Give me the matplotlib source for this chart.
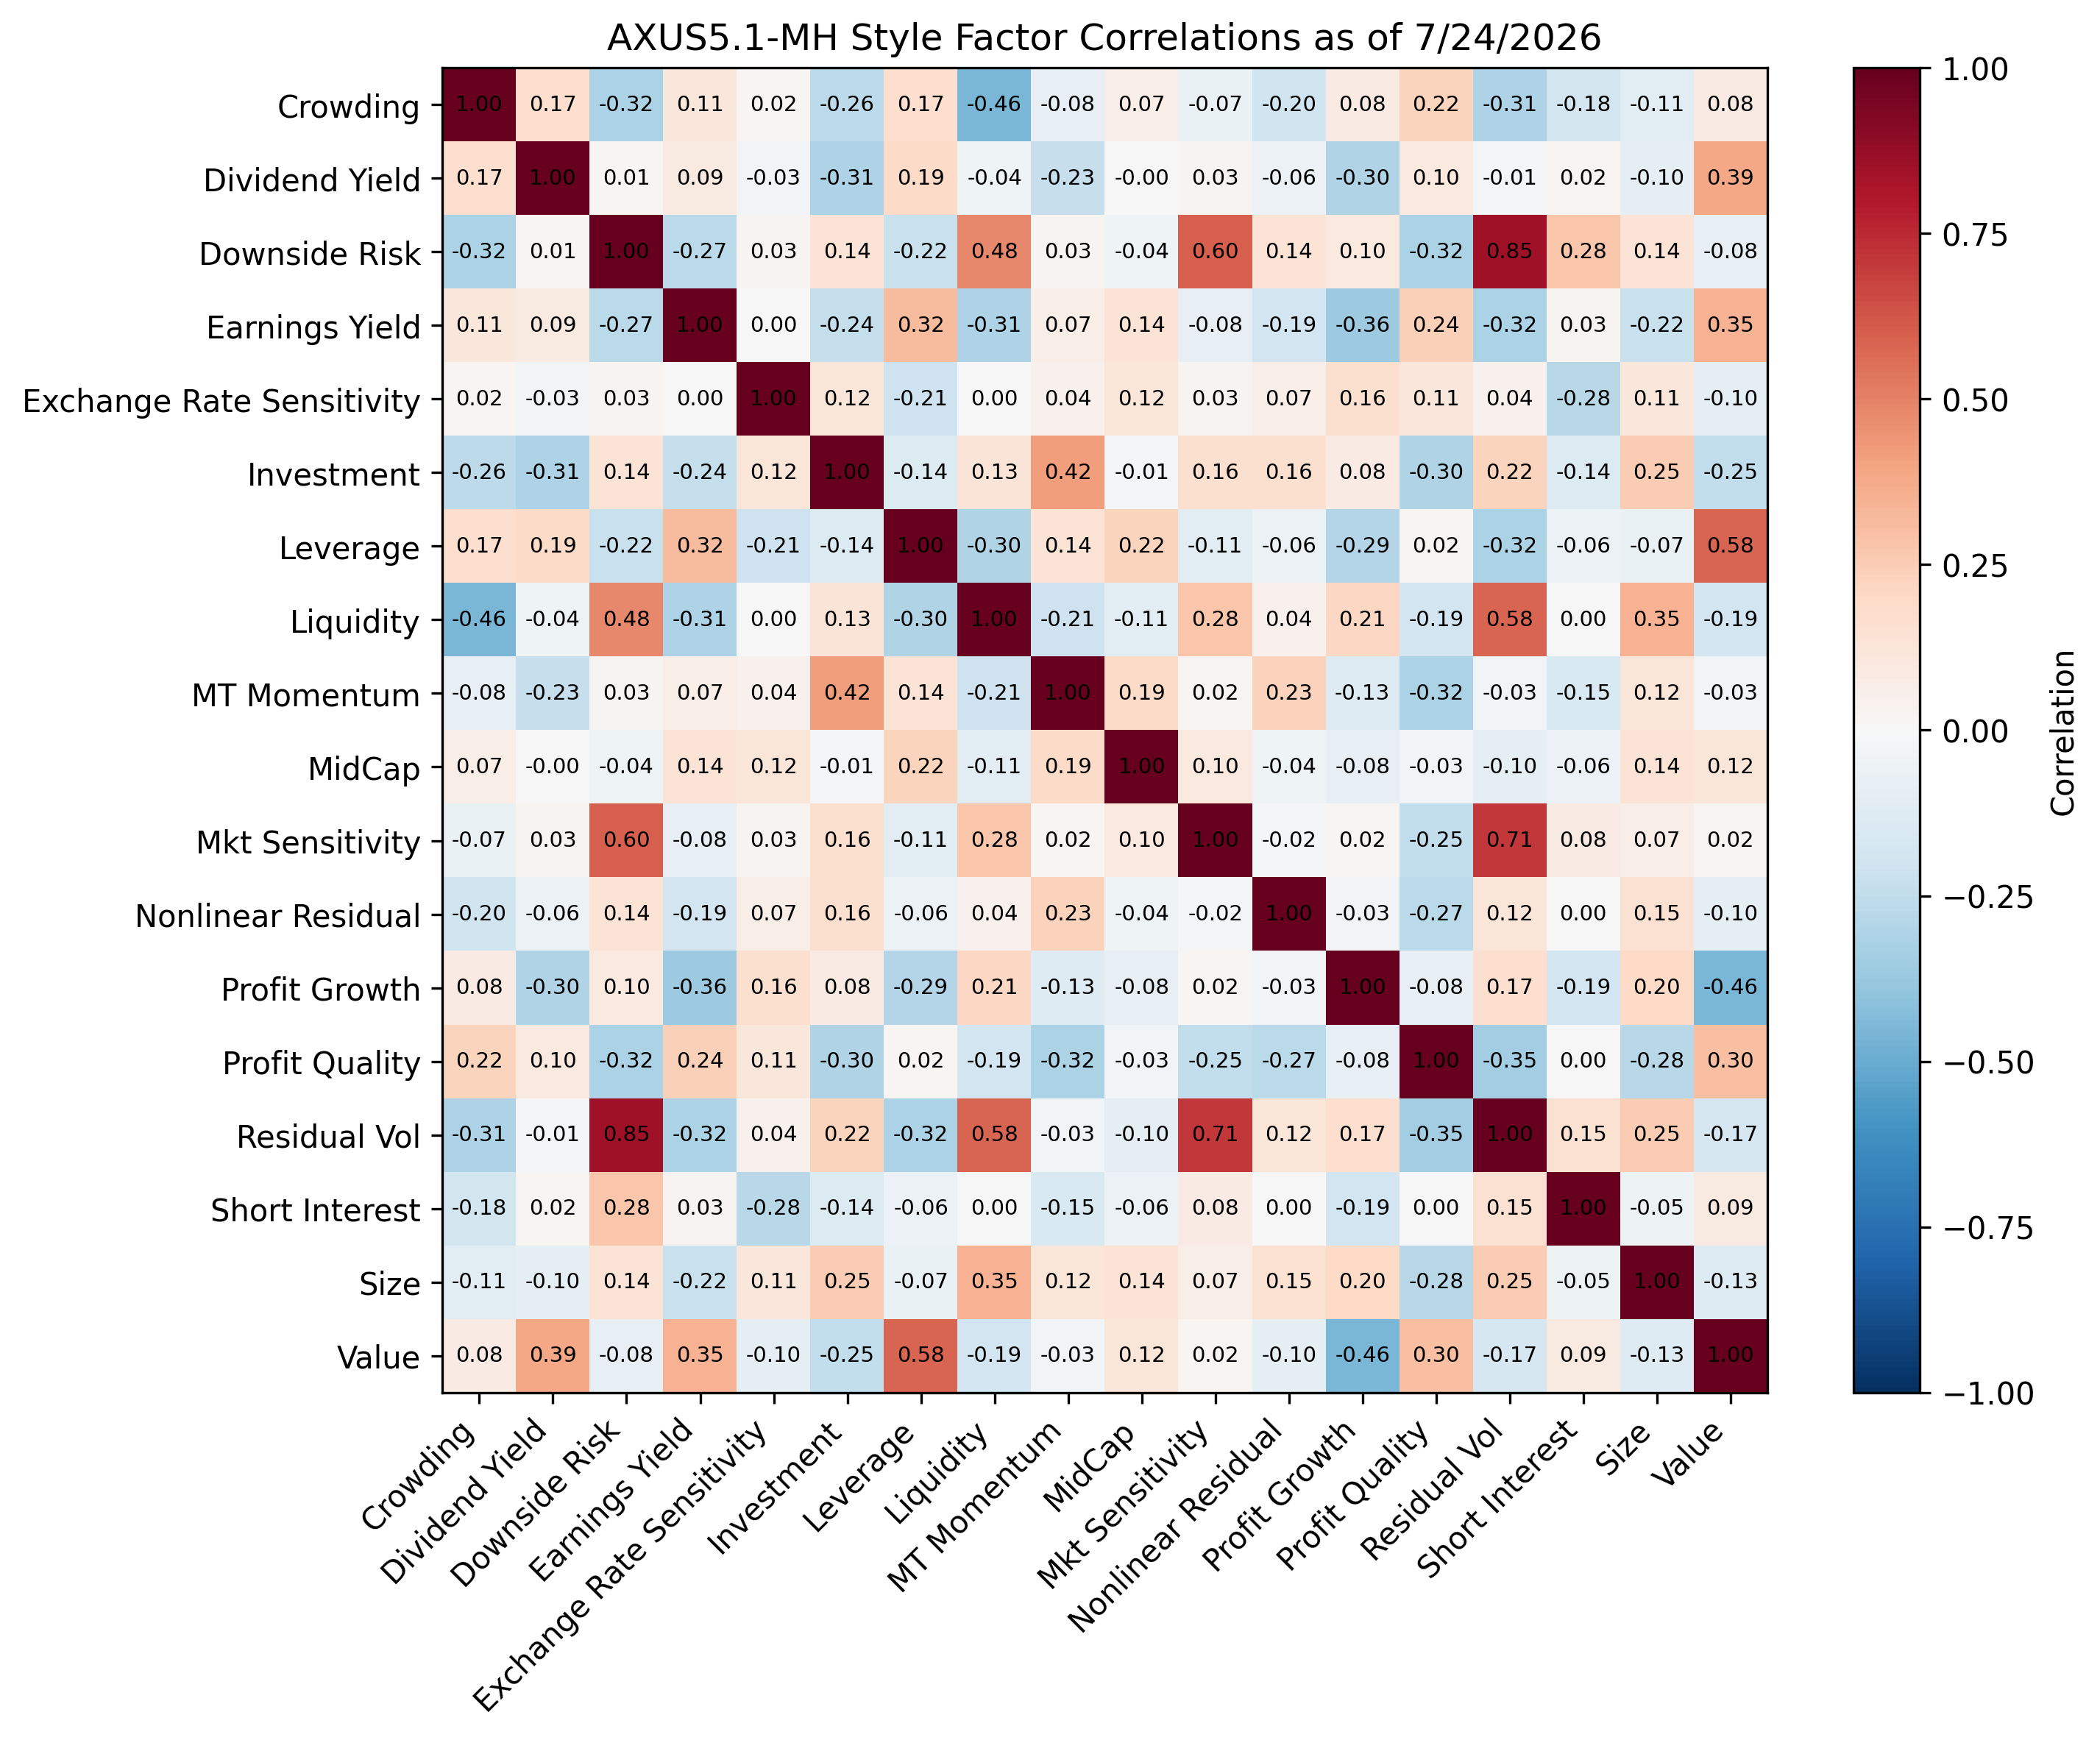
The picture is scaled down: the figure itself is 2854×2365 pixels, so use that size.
import numpy as np
import matplotlib
matplotlib.use("Agg")
import matplotlib.pyplot as plt

factors = ["Crowding", "Dividend Yield", "Downside Risk", "Earnings Yield",
           "Exchange Rate Sensitivity", "Investment", "Leverage", "Liquidity",
           "MT Momentum", "MidCap", "Mkt Sensitivity", "Nonlinear Residual",
           "Profit Growth", "Profit Quality", "Residual Vol", "Short Interest",
           "Size", "Value"]

row_crowding = [1.00, 0.17, -0.32, 0.11, 0.02, -0.26, 0.17, -0.46, -0.08, 0.07, -0.07, -0.20, 0.08, 0.22, -0.31, -0.18, -0.11, 0.08]
row_dividend = [0.17, 1.00, 0.01, 0.09, -0.03, -0.31, 0.19, -0.04, -0.23, -0.004, 0.03, -0.06, -0.30, 0.10, -0.01, 0.02, -0.10, 0.39]
row_downside = [-0.32, 0.01, 1.00, -0.27, 0.03, 0.14, -0.22, 0.48, 0.03, -0.04, 0.60, 0.14, 0.10, -0.32, 0.85, 0.28, 0.14, -0.08]
row_earnings = [0.11, 0.09, -0.27, 1.00, 0.00, -0.24, 0.32, -0.31, 0.07, 0.14, -0.08, -0.19, -0.36, 0.24, -0.32, 0.03, -0.22, 0.35]
row_fx = [0.02, -0.03, 0.03, 0.00, 1.00, 0.12, -0.21, 0.00, 0.04, 0.12, 0.03, 0.07, 0.16, 0.11, 0.04, -0.28, 0.11, -0.10]
row_invest = [-0.26, -0.31, 0.14, -0.24, 0.12, 1.00, -0.14, 0.13, 0.42, -0.01, 0.16, 0.16, 0.08, -0.30, 0.22, -0.14, 0.25, -0.25]
row_leverage = [0.17, 0.19, -0.22, 0.32, -0.21, -0.14, 1.00, -0.30, 0.14, 0.22, -0.11, -0.06, -0.29, 0.02, -0.32, -0.06, -0.07, 0.58]
row_liquidity = [-0.46, -0.04, 0.48, -0.31, 0.00, 0.13, -0.30, 1.00, -0.21, -0.11, 0.28, 0.04, 0.21, -0.19, 0.58, 0.00, 0.35, -0.19]
row_momentum = [-0.08, -0.23, 0.03, 0.07, 0.04, 0.42, 0.14, -0.21, 1.00, 0.19, 0.02, 0.23, -0.13, -0.32, -0.03, -0.15, 0.12, -0.03]
row_midcap = [0.07, -0.004, -0.04, 0.14, 0.12, -0.01, 0.22, -0.11, 0.19, 1.00, 0.10, -0.04, -0.08, -0.03, -0.10, -0.06, 0.14, 0.12]
row_mkt = [-0.07, 0.03, 0.60, -0.08, 0.03, 0.16, -0.11, 0.28, 0.02, 0.10, 1.00, -0.02, 0.02, -0.25, 0.71, 0.08, 0.07, 0.02]
row_nonlin = [-0.20, -0.06, 0.14, -0.19, 0.07, 0.16, -0.06, 0.04, 0.23, -0.04, -0.02, 1.00, -0.03, -0.27, 0.12, 0.00, 0.15, -0.10]
row_pgrowth = [0.08, -0.30, 0.10, -0.36, 0.16, 0.08, -0.29, 0.21, -0.13, -0.08, 0.02, -0.03, 1.00, -0.08, 0.17, -0.19, 0.20, -0.46]
row_pquality = [0.22, 0.10, -0.32, 0.24, 0.11, -0.30, 0.02, -0.19, -0.32, -0.03, -0.25, -0.27, -0.08, 1.00, -0.35, 0.00, -0.28, 0.30]
row_resvol = [-0.31, -0.01, 0.85, -0.32, 0.04, 0.22, -0.32, 0.58, -0.03, -0.10, 0.71, 0.12, 0.17, -0.35, 1.00, 0.15, 0.25, -0.17]
row_short = [-0.18, 0.02, 0.28, 0.03, -0.28, -0.14, -0.06, 0.00, -0.15, -0.06, 0.08, 0.00, -0.19, 0.00, 0.15, 1.00, -0.05, 0.09]
row_size = [-0.11, -0.10, 0.14, -0.22, 0.11, 0.25, -0.07, 0.35, 0.12, 0.14, 0.07, 0.15, 0.20, -0.28, 0.25, -0.05, 1.00, -0.13]
row_value = [0.08, 0.39, -0.08, 0.35, -0.10, -0.25, 0.58, -0.19, -0.03, 0.12, 0.02, -0.10, -0.46, 0.30, -0.17, 0.09, -0.13, 1.00]

corr = np.array([row_crowding, row_dividend, row_downside, row_earnings, row_fx,
                 row_invest, row_leverage, row_liquidity, row_momentum, row_midcap,
                 row_mkt, row_nonlin, row_pgrowth, row_pquality, row_resvol,
                 row_short, row_size, row_value])

fig, ax = plt.subplots(figsize=(10, 8))
im = ax.imshow(corr, cmap="RdBu_r", vmin=-1, vmax=1)
cbar = fig.colorbar(im, ax=ax)
cbar.set_label("Correlation")

n = len(factors)
ax.set_xticks(np.arange(n))
ax.set_yticks(np.arange(n))
ax.set_xticklabels(factors, rotation=45, ha="right")
ax.set_yticklabels(factors)

for i in range(n):
    for j in range(n):
        ax.text(j, i, f"{corr[i, j]:.2f}", ha="center", va="center",
                color="black", fontsize=7)

ax.set_title("AXUS5.1-MH Style Factor Correlations as of 7/24/2026")
fig.tight_layout()
fig.savefig("out.png", dpi=300, bbox_inches="tight")
